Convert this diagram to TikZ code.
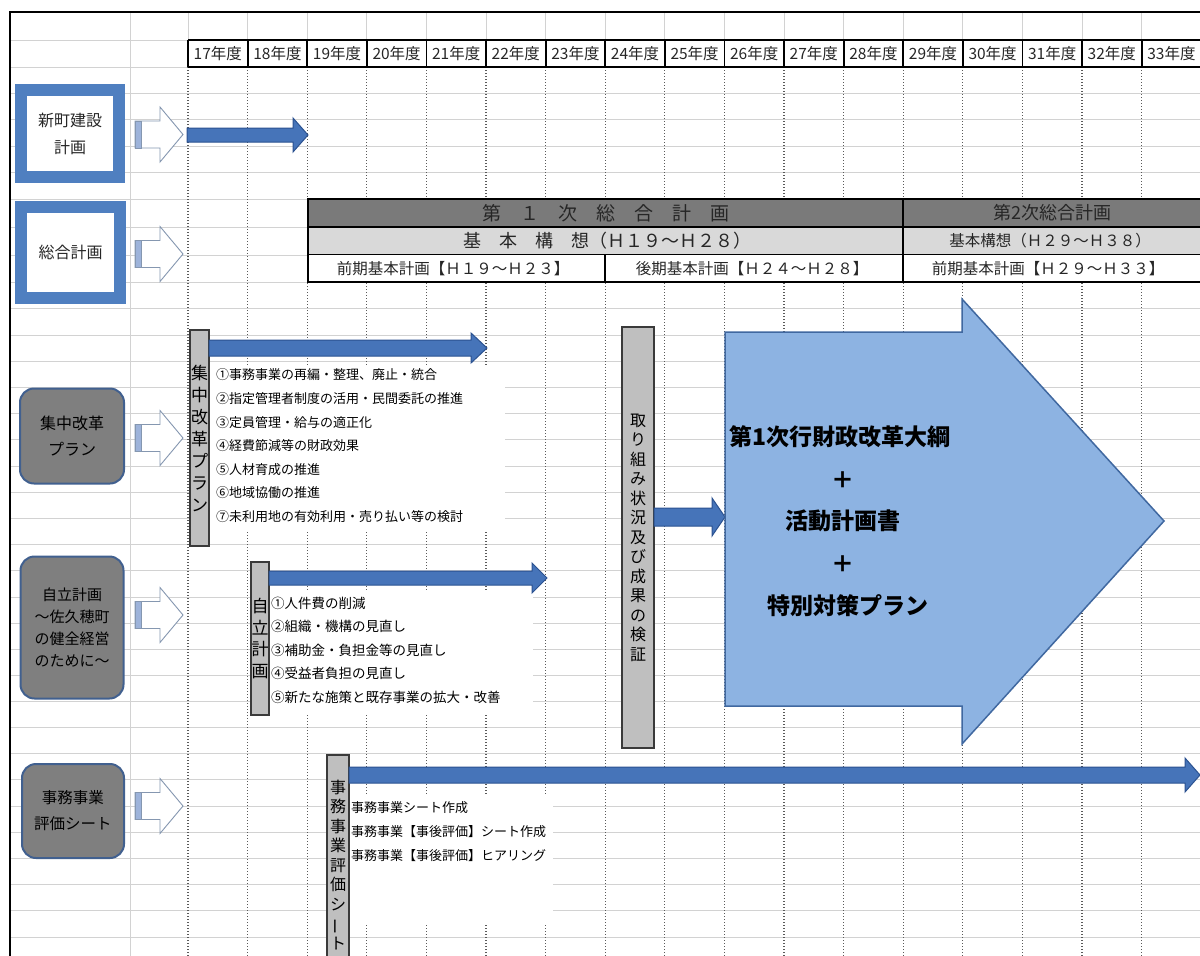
\documentclass[tikz,border=0pt]{standalone}
\usepackage{fontspec}
\setmainfont{Noto Sans CJK JP}
\usetikzlibrary{calc}
\definecolor{gridc}{HTML}{D2D2D2}
\definecolor{dotc}{HTML}{5A5A5A}
\definecolor{frameblue}{HTML}{4F7FC0}
\definecolor{roundfill}{HTML}{7F7F7F}
\definecolor{roundedge}{HTML}{41608F}
\definecolor{barfill}{HTML}{BFBFBF}
\definecolor{baredge}{HTML}{3A3A3A}
\definecolor{blockfill}{HTML}{4674B9}
\definecolor{blockedge}{HTML}{2B5291}
\definecolor{bigfill}{HTML}{8DB3E2}
\definecolor{bigedge}{HTML}{4068A0}
\definecolor{rowdark}{HTML}{7A7A7A}
\definecolor{rowlight}{HTML}{D9D9D9}
\definecolor{hollowedge}{HTML}{8597B0}
\definecolor{hollowbar}{HTML}{9DB3DA}
\definecolor{txtc}{HTML}{262626}
\newcommand\fs[2]{\fontsize{#1}{#2}\selectfont}
\newcommand\myblockarrow[6]{%
  \filldraw[blockarr] (#1,#3-#4) -- (#2-#6,#3-#4) -- (#2-#6,#3-#5) -- (#2,#3)
    -- (#2-#6,#3+#5) -- (#2-#6,#3+#4) -- (#1,#3+#4) -- cycle;}
\newcommand\myhollowarrow[1]{%
  \filldraw[hollow] (135,#1-13.5) -- (160,#1-13.5) -- (160,#1-27.5) -- (183,#1)
    -- (160,#1+27.5) -- (160,#1+13.5) -- (135,#1+13.5) -- cycle;
  \filldraw[fill=hollowbar,draw=hollowedge,line width=0.9pt] (135,#1-13.5) rectangle (141,#1+13.5);}
\newcommand\vbar{\rotatebox[origin=c]{90}{ー}}
\tikzset{
  gridline/.style={draw=gridc,line width=0.8pt},
  dotline/.style={draw=dotc,line width=1.2pt,dash pattern=on 1.2pt off 1.8pt},
  hdrtext/.style={font=\fs{15.5}{18},text=txtc,inner sep=0pt},
  framebox/.style={draw=frameblue,line width=12pt,fill=white,inner sep=0pt,align=center,font=\fs{16}{27},text=txtc},
  roundbox/.style={draw=roundedge,line width=2pt,fill=roundfill,rounded corners=14pt,inner sep=0pt,align=center,text=black},
  graybar/.style={draw=baredge,line width=1.2pt,fill=barfill,inner sep=0pt,align=center,text=black},
  blockarr/.style={draw=blockedge,line width=1pt,fill=blockfill},
  bigarr/.style={draw=bigedge,line width=1.5pt,fill=bigfill},
  hollow/.style={draw=hollowedge,line width=0.9pt,fill=white},
  listtext/.style={anchor=west,font=\fs{13}{16},text=black,inner sep=0pt},
  tabtext/.style={inner sep=0pt,text=txtc},
  bigtext/.style={inner sep=0pt,font=\fs{23}{28}\bfseries,text=black},
}
\begin{document}
\begin{tikzpicture}[x=1pt,y=-1pt]
\useasboundingbox (0,0) rectangle (1200,956);
\fill[white] (0,0) rectangle (1200,956);
% light grid
\foreach \yy in {40,67,93,119,146,172,199,227,255,282,308,335,361,387,413,439,466,492,518,544,570,597,623,649,675,701,727,753,779,806,832,858,884,910,937}
  \draw[gridline] (10,\yy) -- (1200,\yy);
\draw[gridline] (130,12) -- (130,956);
\foreach \i in {0,...,17} \draw[gridline] ({188+59.6*\i},12) -- ({188+59.6*\i},40);
% dotted year columns
\foreach \i in {0,...,17} \draw[dotline] ({188+59.6*\i},67) -- ({188+59.6*\i},956);
% frame of sheet
\draw[black,line width=2pt] (10,956) -- (10,12) -- (1200,12);
% header row
\fill[white] (188,40) rectangle (1201,67);
\foreach \i in {0,...,16} {
  \pgfmathtruncatemacro\yr{17+\i}
  \node[hdrtext] (h\yr) at ({188+59.6*\i+29.8},53.5) {\yr 年度};
}
\draw[black,line width=1.8pt] (188,40) -- (1201,40) (188,67) -- (1201,67);
\foreach \i in {0,...,17} \draw[black,line width=1.8pt] ({188+59.6*\i},40) -- ({188+59.6*\i},67);
% plan table
\fill[rowdark] (308,199) rectangle (1201,227);
\fill[rowlight] (308,227) rectangle (1201,254.5);
\fill[white] (308,254.5) rectangle (1201,282);
\draw[black,line width=1.8pt] (1201,199) -- (308,199) -- (308,282) -- (1201,282);
\draw[black,line width=1.8pt] (308,227) -- (1201,227) (308,254.5) -- (1201,254.5) (903,199) -- (903,282);
\draw[black,line width=1.3pt] (605,254.5) -- (605,282);
\node[tabtext,font=\fs{19}{22}] (p1) at (605.5,213) {第　１　次　総　合　計　画};
\node[tabtext,font=\fs{18}{22}] (p2) at (1052,213) {第2次総合計画};
\node[tabtext,font=\fs{18}{22}] (k1) at (607,241) {基　本　構　想（Ｈ１９～Ｈ２８）};
\node[tabtext,font=\fs{15.5}{20}] (k2) at (1050,241) {基本構想（Ｈ２９～Ｈ３８）};
\node[tabtext,font=\fs{15.5}{20}] (z1) at (453,268.5) {前期基本計画【Ｈ１９～Ｈ２３】};
\node[tabtext,font=\fs{15.5}{20}] (z2) at (752,268.5) {後期基本計画【Ｈ２４～Ｈ２８】};
\node[tabtext,font=\fs{15.5}{20}] (z3) at (1048,268.5) {前期基本計画【Ｈ２９～Ｈ３３】};
% left category boxes
\node[framebox,minimum width=98,minimum height=87] (shin) at (70,133.5) {新町建設\\計画};
\node[framebox,minimum width=99,minimum height=91] (sogo) at (70.5,252.5) {総合計画};
\node[roundbox,minimum width=104,minimum height=95,font=\fs{16}{26}] (shuchu) at (72,436) {集中改革\\プラン};
\node[roundbox,minimum width=103,minimum height=142,font=\fs{15}{22}] (jiritsu) at (72,627.5) {自立計画\\～佐久穂町\\の健全経営\\のために～};
\node[roundbox,minimum width=102,minimum height=94,font=\fs{15.5}{26}] (jimu) at (73,811) {事務事業\\評価シート};
% hollow arrows
\myhollowarrow{134.5}
\myhollowarrow{254}
\myhollowarrow{438}
\myhollowarrow{615}
\myhollowarrow{806}
% white label areas
\fill[white] (209,366) rectangle (505,530);
\fill[white] (269,590) rectangle (533,713);
\fill[white] (349,795) rectangle (553,925);
% vertical bars
\node[graybar,minimum width=19,minimum height=216,font=\fs{17}{22}] (barshuchu) at (199.5,438) {集\\中\\改\\革\\プ\\ラ\\ン};
\node[graybar,minimum width=18,minimum height=153,font=\fs{17}{21.5}] (barjiritsu) at (260,638.5) {自\\立\\計\\画};
\node[graybar,minimum width=22,minimum height=220,font=\fs{16}{19.5}] (barjimu) at (338,865) {事\\務\\事\\業\\評\\価\\シ\\\vbar\\ト};
\node[graybar,minimum width=32,minimum height=421,font=\fs{16}{19.5}] (verify) at (638,537.5) {取\\り\\組\\み\\状\\況\\及\\び\\成\\果\\の\\検\\証};
% blue arrows
\myblockarrow{187}{308}{135}{7}{17}{15}
\myblockarrow{209}{487}{348}{8}{15}{16}
\myblockarrow{269}{547}{578}{7}{15}{15}
\myblockarrow{654}{725}{517}{9}{19}{13}
\myblockarrow{349}{1200}{775}{8}{17}{15}
% list texts
\foreach \t [count=\k] in {①事務事業の再編・整理、廃止・統合,②指定管理者制度の活用・民間委託の推進,③定員管理・給与の適正化,④経費節減等の財政効果,⑤人材育成の推進,⑥地域協働の推進,⑦未利用地の有効利用・売り払い等の検討}
  \node[listtext] (s\k) at (216,{375+23.6*(\k-1)}) {\t};
\foreach \t [count=\k] in {①人件費の削減,②組織・機構の見直し,③補助金・負担金等の見直し,④受益者負担の見直し,⑤新たな施策と既存事業の拡大・改善}
  \node[listtext,font=\fs{13.5}{16}] (j\k) at (271,{603+23.5*(\k-1)}) {\t};
\foreach \t [count=\k] in {事務事業シート作成,事務事業【事後評価】シート作成,事務事業【事後評価】ヒアリング}
  \node[listtext] (e\k) at (351,{808+24*(\k-1)}) {\t};
% big arrow
\filldraw[bigarr] (725,332) -- (962,332) -- (962,299) -- (1164,521) -- (962,744) -- (962,706) -- (725,706) -- cycle;
\node[bigtext] (b1) at (840,437) {第1次行財政改革大綱};
\node[bigtext] (b2) at (843,480) {＋};
\node[bigtext] (b3) at (843,521) {活動計画書};
\node[bigtext] (b4) at (843,564) {＋};
\node[bigtext] (b5) at (848,606) {特別対策プラン};
\end{tikzpicture}
\end{document}
